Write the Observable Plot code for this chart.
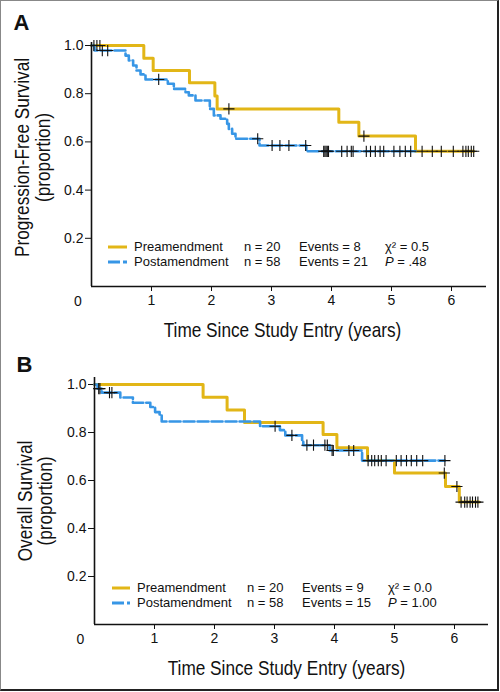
<!DOCTYPE html>
<html>
<head>
<meta charset="utf-8">
<script src="https://cdn.jsdelivr.net/npm/d3@7"></script>
<script src="https://cdn.jsdelivr.net/npm/@observablehq/plot@0.6"></script>
<style>
  body { margin: 0; background: #fff; }
  #fig { position: relative; width: 500px; height: 692px; overflow: hidden; font-family: "Liberation Sans", Arial, sans-serif; background: #fff; }
  #frame { position: absolute; left: 0; top: 0; width: 496px; height: 688px; border-top: 1px solid #888; border-left: 1px solid #888; border-right: 2px solid #222; border-bottom: 2px solid #222; pointer-events: none; }
  .panel { position: absolute; left: 0; }
  .lg { position: absolute; font-size: 13px; line-height: 14px; height: 14px; color: #111; white-space: nowrap; }
  .sw { position: absolute; }
</style>
</head>
<body>
<div id="fig"><div id="frame"></div></div>
<script>
// ---------- data ----------
const groups = ["Preamendment", "Postamendment"];
const groupColors = ["#e2b617", "#3796e6"];
const xTicks = [1, 2, 3, 4, 5, 6];
const yTicks = [0.2, 0.4, 0.6, 0.8, 1.0];
const originLabel = "0";
const xTitle = "Time Since Study Entry (years)";

// Panel A: progression-free survival
const titleA = ["Progression-Free Survival", "(proportion)"];
const pfsPreTimes = [0, 0.872, 1.028, 1.633, 2.056, 2.094, 4.122, 4.456, 5.40];
const pfsPreSurv  = [1.0, 0.947, 0.896, 0.845, 0.79, 0.737, 0.682, 0.624, 0.561];
const pfsPreEnd = 6.37;
const pfsPreCensor = [0.04, 0.09, 0.14, 2.29, 4.54, 5.51, 5.68, 5.83, 6.03, 6.19, 6.24, 6.28, 6.33, 6.37];
const pfsPostTimes = [0, 0.05, 0.567, 0.622, 0.694, 0.75, 0.817, 0.90, 1.272, 1.372, 1.567, 1.622, 1.733, 1.972, 2.039, 2.15, 2.261, 2.289, 2.344, 2.40, 2.80, 3.58];
const pfsPostSurv  = [1.0, 0.979, 0.958, 0.938, 0.917, 0.896, 0.88, 0.859, 0.841, 0.82, 0.806, 0.793, 0.772, 0.737, 0.71, 0.696, 0.675, 0.654, 0.634, 0.613, 0.585, 0.561];
const pfsPostEnd = 5.40;
const pfsPostCensor = [0.18, 0.27, 1.12, 2.77, 3.01, 3.14, 3.29, 3.57, 3.87, 3.89, 3.91, 3.93, 3.95, 4.17, 4.26, 4.33, 4.36, 4.58, 4.65, 4.73, 4.81, 4.87, 5.04, 5.14, 5.23, 5.32];
const nA = [20, 58];
const eventsA = [8, 21];
const chiA = "0.5";
const pA = ".48";

// Panel B: overall survival
const titleB = ["Overall Survival", "(proportion)"];
const osPreTimes = [0, 1.81, 2.21, 2.50, 3.81, 4.04, 4.55, 5.00, 5.85, 6.08];
const osPreSurv  = [1.0, 0.947, 0.894, 0.842, 0.792, 0.736, 0.683, 0.631, 0.575, 0.51];
const osPreEnd = 6.41;
const osPreCensor = [5.83, 6.04, 6.11, 6.17, 6.21, 6.26, 6.30, 6.35, 6.39];
const osPostTimes = [0, 0.05, 0.12, 0.43, 0.64, 0.93, 1.01, 1.085, 1.12, 2.76, 3.09, 3.18, 3.46, 3.48, 3.92, 4.46];
const osPostSurv  = [1.0, 0.983, 0.966, 0.946, 0.924, 0.906, 0.885, 0.871, 0.846, 0.826, 0.81, 0.788, 0.768, 0.747, 0.725, 0.683];
const osPostEnd = 5.84;
const osPostCensor = [0.07, 0.09, 0.25, 0.29, 3.01, 3.29, 3.54, 3.65, 3.84, 3.88, 3.96, 3.98, 4.24, 4.32, 4.56, 4.62, 4.67, 4.73, 4.78, 4.86, 5.03, 5.11, 5.20, 5.28, 5.37, 5.47, 5.84];
const nB = [20, 58];
const eventsB = [9, 15];
const chiB = "0.0";
const pB = "1.00";

// ---------- helpers ----------
function curve(times, surv, end) {
  const pts = times.map((t, i) => ({t, s: surv[i]}));
  pts.push({t: end, s: surv[surv.length - 1]});
  return pts;
}
function censorPts(times, surv, cens) {
  return cens.map(c => {
    let s = surv[0];
    for (let i = 0; i < times.length; i++) if (times[i] <= c) s = surv[i];
    return {t: c, s};
  });
}

const fontMain = "'Liberation Sans', Arial, sans-serif";
const narrowTexts = new Set([xTitle, ...titleA, ...titleB]);

function panel(cfg) {
  const pre = curve(cfg.preT, cfg.preS, cfg.preEnd);
  const post = curve(cfg.postT, cfg.postS, cfg.postEnd);
  const cens = censorPts(cfg.preT, cfg.preS, cfg.preC).concat(censorPts(cfg.postT, cfg.postS, cfg.postC));
  return Plot.plot({
    width: 500,
    height: 346,
    marginTop: cfg.mt, marginBottom: cfg.mb, marginLeft: cfg.ml, marginRight: cfg.mr,
    style: {fontFamily: fontMain, fontSize: "14px", background: "transparent", overflow: "visible", color: "#111"},
    x: {domain: [0, cfg.xMax], ticks: xTicks, tickSize: 5, tickPadding: 4, label: null, tickFormat: d => String(d)},
    y: {domain: [0, cfg.yMax], ticks: yTicks, tickSize: 6, tickPadding: 2, label: null, tickFormat: d => d.toFixed(1)},
    marks: [
      Plot.line(pre, {x: "t", y: "s", curve: "step-after", stroke: groupColors[0], strokeWidth: 3}),
      Plot.line(post, {x: "t", y: "s", curve: "step-after", stroke: groupColors[1], strokeWidth: 2.6, strokeDasharray: "11,3"}),
      Plot.dot(cens, {x: "t", y: "s", symbol: "plus", r: 3.7, stroke: "#111", strokeWidth: 1.1}),
      Plot.ruleX([0], {stroke: "#111", strokeWidth: 1.6}),
      Plot.ruleY([0], {stroke: "#111", strokeWidth: 1.6}),
      Plot.text([originLabel], {frameAnchor: "bottom-left", text: d => d, dx: cfg.ox, dy: cfg.oy, fontSize: 14, textAnchor: "middle", lineAnchor: "middle"}),
      Plot.text([cfg.yTitle[0]], {frameAnchor: "left", text: d => d, rotate: -90, dx: cfg.yt1dx, dy: cfg.ytdy, fontSize: 21, textAnchor: "middle", lineAnchor: "middle"}),
      Plot.text([cfg.yTitle[1]], {frameAnchor: "left", text: d => d, rotate: -90, dx: cfg.yt2dx, dy: cfg.ytdy, fontSize: 21, textAnchor: "middle", lineAnchor: "middle"}),
      Plot.text([xTitle], {frameAnchor: "bottom", text: d => d, dx: cfg.xtdx, dy: 44, fontSize: 21, textAnchor: "middle", lineAnchor: "middle"}),
      Plot.text([cfg.letter], {frameAnchor: "top-left", text: d => d, dx: cfg.ldx, dy: cfg.ldy, fontSize: 22, fontWeight: "bold", textAnchor: "start", lineAnchor: "middle"})
    ]
  });
}

// condense the title texts (the reference uses a narrow typeface)
function condense(svg) {
  svg.querySelectorAll("text").forEach(t => {
    if (narrowTexts.has(t.textContent)) {
      const len = t.getComputedTextLength();
      t.setAttribute("textLength", (len * 0.82).toFixed(1));
      t.setAttribute("lengthAdjust", "spacingAndGlyphs");
    }
  });
}

const fig = document.getElementById("fig");

const svgA = panel({
  preT: pfsPreTimes, preS: pfsPreSurv, preEnd: pfsPreEnd, preC: pfsPreCensor,
  postT: pfsPostTimes, postS: pfsPostSurv, postEnd: pfsPostEnd, postC: pfsPostCensor,
  mt: 42, mb: 60, ml: 91, mr: 14, xMax: 395 / 60, yMax: 244 / 241,
  ox: -13.5, oy: 14.7, yTitle: titleA, yt1dx: -69, yt2dx: -48, ytdy: -7, xtdx: -6.5, letter: "A", ldx: -78, ldy: -19.5
});
svgA.classList.add("panel"); svgA.style.top = "0px";
fig.appendChild(svgA);
condense(svgA);

const svgB = panel({
  preT: osPreTimes, preS: osPreSurv, preEnd: osPreEnd, preC: osPreCensor,
  postT: osPostTimes, postS: osPostSurv, postEnd: osPostEnd, postC: osPostCensor,
  mt: 31, mb: 68, ml: 94, mr: 12, xMax: 394 / 60, yMax: 247 / 240,
  ox: -14, oy: 15.3, yTitle: titleB, yt1dx: -69, yt2dx: -49, ytdy: 0, xtdx: -5, letter: "B", ldx: -78, ldy: -12.5
});
svgB.classList.add("panel"); svgB.style.top = "346px";
fig.appendChild(svgB);
condense(svgB);

// ---------- legends ----------
function legend(top1, top2, cols, n, ev, chi, p) {
  const rows = [top1, top2];
  rows.forEach((cy, i) => {
    const sw = document.createElementNS("http://www.w3.org/2000/svg", "svg");
    sw.setAttribute("class", "sw");
    sw.setAttribute("width", cols.sw[1] - cols.sw[0]);
    sw.setAttribute("height", 6);
    sw.style.left = cols.sw[0] + "px";
    sw.style.top = (cy - 3) + "px";
    const ln = document.createElementNS("http://www.w3.org/2000/svg", "line");
    ln.setAttribute("x1", 0); ln.setAttribute("x2", cols.sw[1] - cols.sw[0]);
    ln.setAttribute("y1", 3); ln.setAttribute("y2", 3);
    ln.setAttribute("stroke", groupColors[i]);
    ln.setAttribute("stroke-width", i === 0 ? 3 : 2.8);
    if (i === 1) ln.setAttribute("stroke-dasharray", "12,3");
    sw.appendChild(ln);
    fig.appendChild(sw);
    const cells = [
      [cols.label, groups[i]],
      [cols.n, "n = " + n[i]],
      [cols.ev, "Events = " + ev[i]],
      [cols.stat, i === 0 ? "χ² = " + chi : "<i>P</i> = " + p]
    ];
    cells.forEach(([x, html]) => {
      const d = document.createElement("div");
      d.className = "lg";
      d.style.left = x + "px";
      d.style.top = (cy - 7) + "px";
      d.innerHTML = html;
      fig.appendChild(d);
    });
  });
}
legend(246.7, 262.3, {sw: [108, 127], label: 134, n: 244, ev: 299, stat: 385}, nA, eventsA, chiA, pA);
legend(588.3, 603.3, {sw: [112, 130], label: 137, n: 247, ev: 302, stat: 388}, nB, eventsB, chiB, pB);
</script>
</body>
</html>
